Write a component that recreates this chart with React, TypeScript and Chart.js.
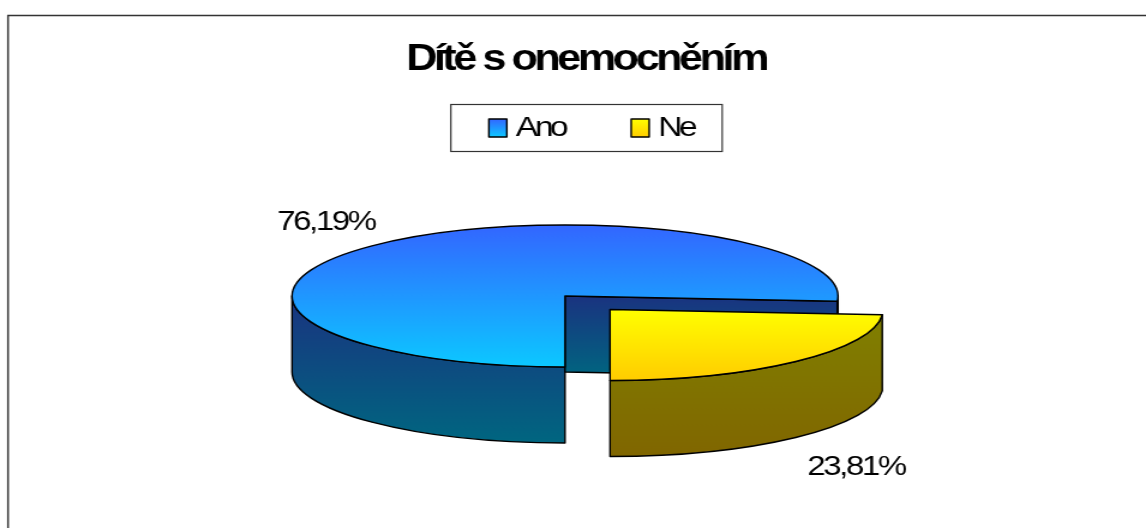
import React, { useEffect, useRef } from "react";
import { Chart, registerables } from "chart.js";

Chart.register(...registerables);

const categories = ["Ano", "Ne"];
const shares = [76.19, 23.81];
const chartTitle = "Dítě s onemocněním";
const topColors = [["#3366ff", "#0cc8ff"], ["#ffff00", "#ffcc00"]];
const wallColors = [["#1a3380", "#006680"], ["#808000", "#806600"]];
const swatchColors = [["#3366ff", "#0cc8ff"], ["#ffff00", "#ffcc00"]];

// The picture is a horizontally stretched raster: everything is drawn in
// logical pixels and the canvas is widened by STRETCH.
const STRETCH = 1.2;
const W = 1146 / STRETCH;
const H = 528;
const X = (px: number) => px / STRETCH;

const RADIUS = 150;
const CENTER = { x: X(565), y: 296 };
const RX = X(273);
const RY = 71;
const DEPTH = 76;
const EXPLODE = [{ x: 0, y: 0 }, { x: X(45), y: 13.5 }];
const LABEL_AT = [{ x: X(326), y: 222 }, { x: X(856), y: 467 }];
const LEGEND_SHIFT = X(5.5);
const LINE = "#000000";
const TRACKING = "-2.9px";

function grad(ctx: CanvasRenderingContext2D, y0: number, y1: number, c: string[]) {
  const g = ctx.createLinearGradient(0, y0, 0, y1);
  g.addColorStop(0, c[0]);
  g.addColorStop(1, c[1]);
  return g;
}

function paint(ctx: CanvasRenderingContext2D, fill: CanvasGradient | null) {
  if (fill) {
    ctx.fillStyle = fill;
    ctx.fill();
  }
  ctx.strokeStyle = LINE;
  ctx.lineWidth = 1.4;
  ctx.lineJoin = "round";
  ctx.stroke();
}

const pie3d = {
  id: "pie3d",
  beforeLayout(chart: any) {
    chart.ctx.letterSpacing = TRACKING;
  },
  afterLayout(chart: any) {
    const lg = chart.legend;
    lg.left += LEGEND_SHIFT;
    lg.right += LEGEND_SHIFT;
    lg.legendHitBoxes.forEach((h: any) => {
      h.left += LEGEND_SHIFT;
    });
  },
  beforeDraw(chart: any) {
    const ctx = chart.ctx;
    ctx.letterSpacing = TRACKING;
    // outer frame of the original picture: only top and left are in view
    ctx.save();
    ctx.strokeStyle = "#333333";
    ctx.lineWidth = 1.5;
    ctx.beginPath();
    ctx.moveTo(X(8), H);
    ctx.lineTo(X(8), 15.5);
    ctx.lineTo(W, 15.5);
    ctx.stroke();

    // legend box
    const hits = chart.legend.legendHitBoxes;
    const midY = hits[0].top + hits[0].height / 2;
    const bx0 = hits[0].left - X(38);
    const bx1 = hits[1].left + X(91);
    ctx.strokeStyle = "#333333";
    ctx.lineWidth = 1.2;
    ctx.strokeRect(bx0, midY - 23.5, bx1 - bx0, 47);
    ctx.restore();
  },
  beforeDatasetsDraw(chart: any) {
    const ctx = chart.ctx as CanvasRenderingContext2D;
    const arcs = chart.getDatasetMeta(0).data;
    const sx = RX / arcs[0].outerRadius;
    const sy = RY / arcs[0].outerRadius;
    ctx.save();

    arcs.forEach((arc: any, i: number) => {
      const cx = CENTER.x + EXPLODE[i].x;
      const cy = CENTER.y + EXPLODE[i].y;
      const s = arc.startAngle;
      const e = arc.endAngle;
      // outer wall: the parts of the rim that face the viewer
      for (let k = -1; k <= 2; k++) {
        const a0 = Math.max(s, 2 * Math.PI * k);
        const a1 = Math.min(e, 2 * Math.PI * k + Math.PI);
        if (a1 <= a0) continue;
        ctx.beginPath();
        ctx.ellipse(cx, cy, RX, RY, 0, a0, a1);
        ctx.ellipse(cx, cy + DEPTH, RX, RY, 0, a1, a0, true);
        ctx.closePath();
        const yTop = cy + RY * Math.min(Math.sin(a0), Math.sin(a1));
        paint(ctx, grad(ctx, yTop, cy + RY + DEPTH, wallColors[i]));
      }
      // cut face at the end of the slice
      if (Math.cos(e) > 1e-6) {
        const ex = cx + RX * Math.cos(e);
        const ey = cy + RY * Math.sin(e);
        ctx.beginPath();
        ctx.moveTo(cx, cy);
        ctx.lineTo(ex, ey);
        ctx.lineTo(ex, ey + DEPTH);
        ctx.lineTo(cx, cy + DEPTH);
        ctx.closePath();
        paint(ctx, grad(ctx, cy, ey + DEPTH, wallColors[i]));
      }
    });

    // the library's own arcs, flattened into the tilted plane
    arcs.forEach((arc: any, i: number) => {
      ctx.save();
      ctx.translate(CENTER.x + EXPLODE[i].x, CENTER.y + EXPLODE[i].y);
      ctx.scale(sx, sy);
      ctx.translate(-arc.x, -arc.y);
      arc.draw(ctx);
      ctx.restore();
      const cx = CENTER.x + EXPLODE[i].x;
      const cy = CENTER.y + EXPLODE[i].y;
      ctx.beginPath();
      ctx.moveTo(cx, cy);
      ctx.ellipse(cx, cy, RX, RY, 0, arc.startAngle, arc.endAngle);
      ctx.closePath();
      paint(ctx, null);
    });

    // percentage labels
    ctx.fillStyle = "#000000";
    ctx.font = "27.5px 'Liberation Sans'";
    ctx.textAlign = "center";
    ctx.textBaseline = "middle";
    (ctx as any).letterSpacing = "-2px";
    shares.forEach((v, i) => {
      const text = v.toFixed(2).replace(".", ",") + "%";
      ctx.fillText(text, LABEL_AT[i].x, LABEL_AT[i].y);
    });
    ctx.restore();
    return false;
  },
  afterDraw(chart: any) {
    const ctx = chart.ctx as CanvasRenderingContext2D;
    const hits = chart.legend.legendHitBoxes;
    ctx.save();
    hits.forEach((h: any, i: number) => {
      const midY = h.top + h.height / 2;
      const bw = X(18);
      ctx.beginPath();
      ctx.rect(h.left, midY - 9, bw, 18);
      paint(ctx, grad(ctx, midY - 9, midY + 9, swatchColors[i]));
    });
    ctx.restore();
  },
};

export default function App() {
  const ref = useRef<HTMLCanvasElement>(null);
  useEffect(() => {
    const chart = new Chart(ref.current as HTMLCanvasElement, {
      type: "pie",
      data: {
        labels: categories,
        datasets: [
          {
            data: shares,
            borderWidth: 0,
            backgroundColor: (c: any) => {
              const area = c.chart.chartArea;
              const i = c.dataIndex ?? 0;
              if (!area) return topColors[i][0];
              const cy = (area.top + area.bottom) / 2;
              return grad(c.chart.ctx, i === 0 ? cy - RADIUS : cy, cy + RADIUS, topColors[i]);
            },
          },
        ],
      },
      options: {
        animation: false,
        responsive: false,
        devicePixelRatio: 1,
        rotation: 180,
        radius: RADIUS,
        layout: { padding: { left: X(26) } },
        plugins: {
          tooltip: { enabled: false },
          title: {
            display: true,
            text: chartTitle,
            color: "#000000",
            font: { family: "'Liberation Sans'", size: 36, weight: "bold" },
            padding: { top: 38.8, bottom: -23 },
          },
          legend: {
            display: true,
            position: "top",
            labels: {
              color: "#000000",
              font: { family: "'Liberation Sans'", size: 28 },
              boxWidth: 8.5,
              boxHeight: 18,
              padding: 55,
              generateLabels: (chart: any) =>
                chart.data.labels.map((t: string, i: number) => ({
                  text: t,
                  index: i,
                  fillStyle: "rgba(0,0,0,0)",
                  strokeStyle: "rgba(0,0,0,0)",
                  lineWidth: 0,
                  hidden: false,
                })),
            },
          },
        },
      },
      plugins: [pie3d],
    } as any);
    return () => chart.destroy();
  }, []);
  return (
    <div style={{ position: "fixed", left: 0, top: 0, width: 1146, height: 528, overflow: "hidden", background: "#fff" }}>
      <canvas
        ref={ref}
        width={W}
        height={H}
        style={{ display: "block", width: W, height: H, transform: `scaleX(${STRETCH})`, transformOrigin: "0 0" }}
      />
    </div>
  );
}
